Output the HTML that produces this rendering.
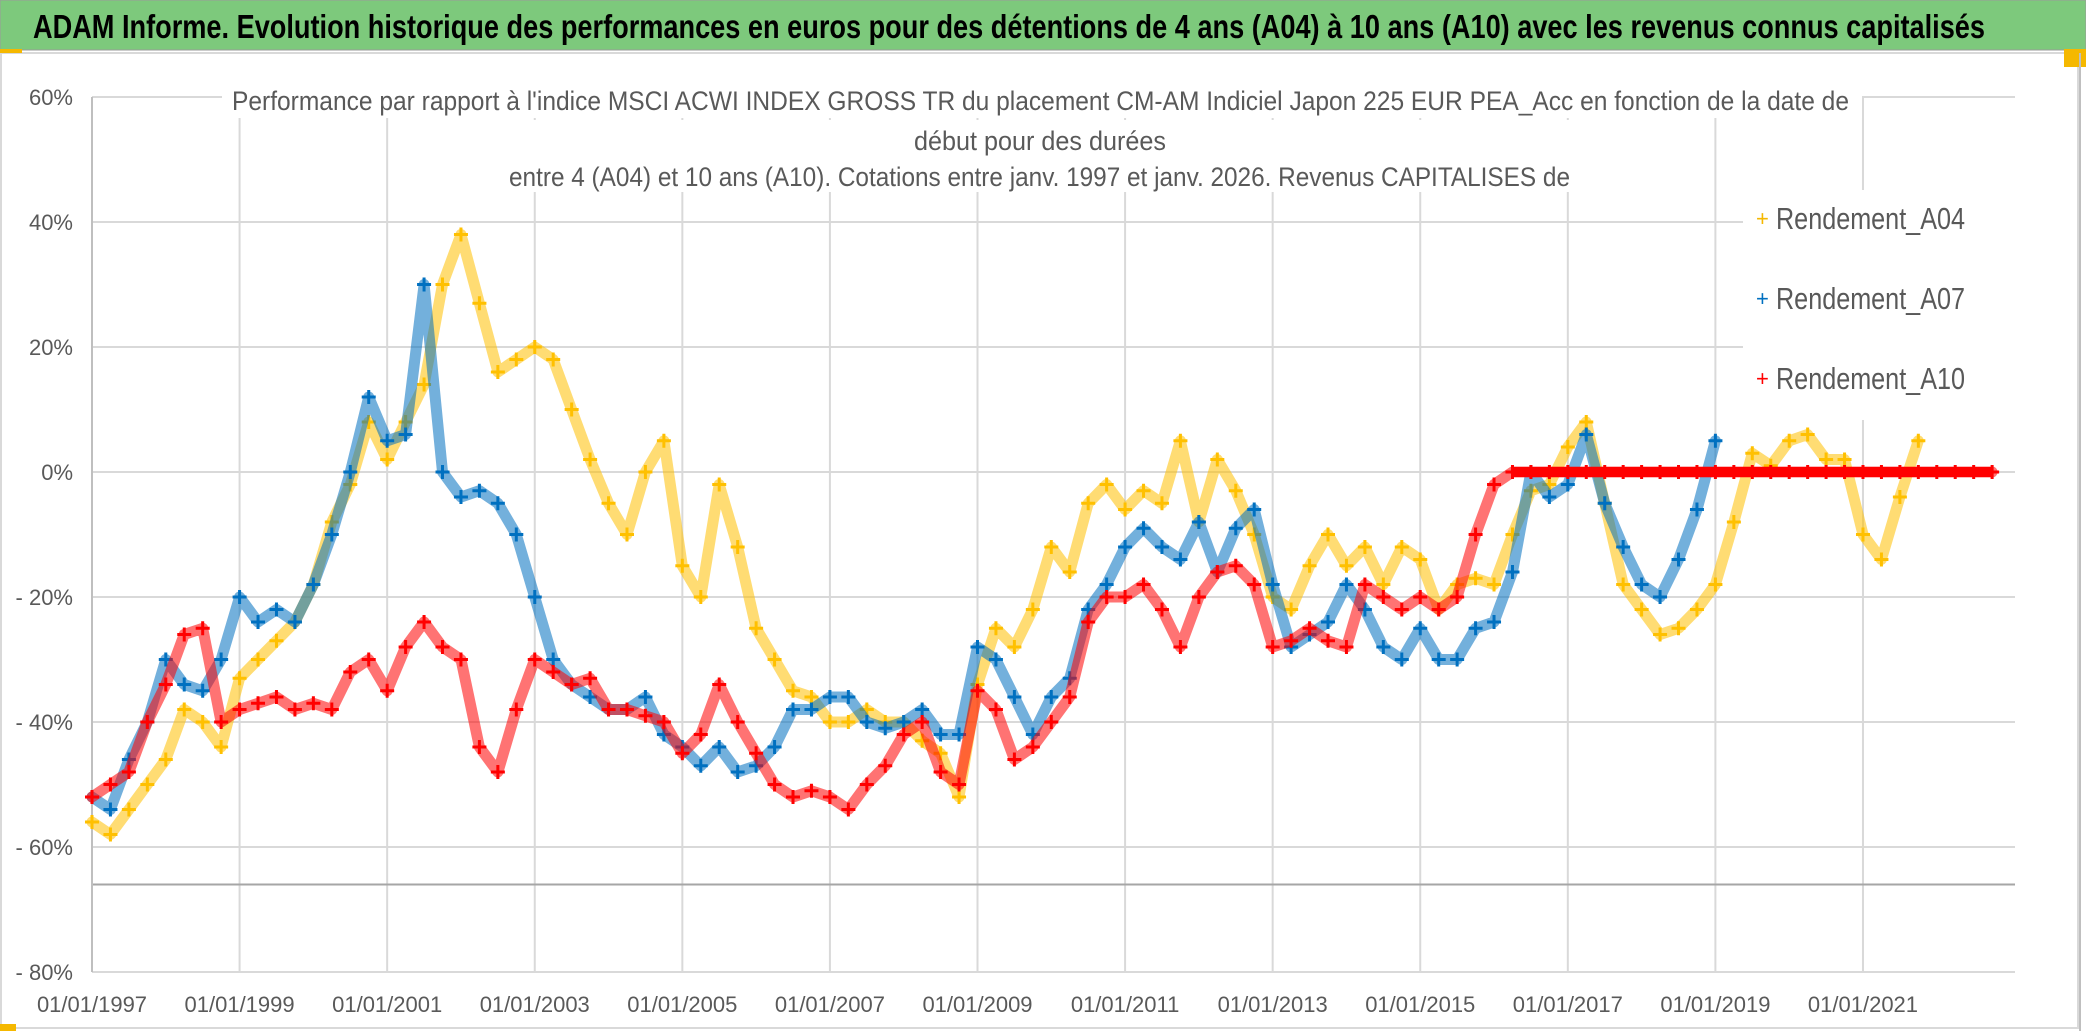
<!DOCTYPE html>
<html><head><meta charset="utf-8">
<style>
html,body{margin:0;padding:0;background:#fff;}
svg{display:block;}
text{font-family:"Liberation Sans Narrow","Liberation Sans",sans-serif;}
</style></head>
<body>
<svg id="chart" width="2086" height="1031" viewBox="0 0 2086 1031" xmlns="http://www.w3.org/2000/svg">
  <rect x="0" y="0" width="2086" height="1031" fill="#ffffff"/>
  <rect x="0" y="0" width="2086" height="50" fill="#7dc97c" stroke="#9a9a9a" stroke-width="1"/>
  <text x="33" y="38" font-size="33" font-weight="bold" fill="#000" textLength="1952" lengthAdjust="spacingAndGlyphs">ADAM Informe. Evolution historique des performances en euros pour des détentions de 4 ans (A04) à 10 ans (A10) avec les revenus connus capitalisés</text>
  <rect x="1" y="53" width="2077" height="975" fill="none" stroke="#d9d9d9" stroke-width="2"/>
  <rect x="0" y="49" width="22" height="4" fill="#f5b800"/>
  <rect x="2064" y="49" width="22" height="18" fill="#f5b800"/>
  <rect x="0" y="1024" width="16" height="7" fill="#f5b800"/>
  <line x1="2080" y1="53" x2="2080" y2="1031" stroke="#bfbfbf" stroke-width="2"/>
  <g id="grid"></g>
  <g id="series"></g>
  <g id="axes"></g>
  <rect x="222" y="78" width="1640" height="40" fill="#fff"/>
  <rect x="500" y="120" width="1080" height="72" fill="#fff"/>
  <text x="232" y="110" font-size="27" fill="#595959" textLength="1617" lengthAdjust="spacingAndGlyphs">Performance par rapport à l'indice MSCI ACWI INDEX GROSS TR  du placement CM-AM Indiciel Japon 225 EUR PEA_Acc en fonction de la date de</text>
  <text x="914" y="150" font-size="27" fill="#595959" textLength="252" lengthAdjust="spacingAndGlyphs">début pour des durées</text>
  <text x="509" y="186" font-size="27" fill="#595959" textLength="1061" lengthAdjust="spacingAndGlyphs">entre 4 (A04) et 10 ans (A10). Cotations entre janv. 1997 et janv. 2026. Revenus CAPITALISES de</text>
  <g id="legend">
    <rect x="1743" y="190" width="272" height="230" fill="#fff"/>
    <g>
      <text x="1756" y="226" font-size="22" fill="#f5b800">+</text>
      <text x="1776" y="229" font-size="31" fill="#595959" textLength="189" lengthAdjust="spacingAndGlyphs">Rendement_A04</text>
    </g>
    <g>
      <text x="1756" y="306" font-size="22" fill="#0070c0">+</text>
      <text x="1776" y="309" font-size="31" fill="#595959" textLength="189" lengthAdjust="spacingAndGlyphs">Rendement_A07</text>
    </g>
    <g>
      <text x="1756" y="386" font-size="22" fill="#ff0000">+</text>
      <text x="1776" y="389" font-size="31" fill="#595959" textLength="189" lengthAdjust="spacingAndGlyphs">Rendement_A10</text>
    </g>
  </g>
</svg>
<script>
// ---- data ----
const yTicks = [60, 40, 20, 0, -20, -40, -60, -80];
const yTickLabels = ["60%", "40%", "20%", "0%", "- 20%", "- 40%", "- 60%", "- 80%"];
const xTicks = [1997, 1999, 2001, 2003, 2005, 2007, 2009, 2011, 2013, 2015, 2017, 2019, 2021];
const xTickLabels = ["01/01/1997","01/01/1999","01/01/2001","01/01/2003","01/01/2005","01/01/2007","01/01/2009","01/01/2011","01/01/2013","01/01/2015","01/01/2017","01/01/2019","01/01/2021"];
const a04Start = 1997;
const a04 = [-56,-58,-54,-50,-46,-38,-40,-44,-33,-30,-27,-24,-18,-8,-2,8,2,8,14,30,38,27,16,18,20,18,10,2,-5,-10,0,5,-15,-20,-2,-12,-25,-30,-35,-36,-40,-40,-38,-40,-40,-43,-45,-52,-34,-25,-28,-22,-12,-16,-5,-2,-6,-3,-5,5,-8,2,-3,-10,-20,-22,-15,-10,-15,-12,-18,-12,-14,-22,-18,-17,-18,-10,-3,-2,4,8,-5,-18,-22,-26,-25,-22,-18,-8,3,1,5,6,2,2,-10,-14,-4,5];
const a07Start = 1997;
const a07 = [-52,-54,-46,-40,-30,-34,-35,-30,-20,-24,-22,-24,-18,-10,0,12,5,6,30,0,-4,-3,-5,-10,-20,-30,-34,-36,-38,-38,-36,-42,-44,-47,-44,-48,-47,-44,-38,-38,-36,-36,-40,-41,-40,-38,-42,-42,-28,-30,-36,-42,-36,-33,-22,-18,-12,-9,-12,-14,-8,-16,-9,-6,-18,-28,-26,-24,-18,-22,-28,-30,-25,-30,-30,-25,-24,-16,0,-4,-2,6,-5,-12,-18,-20,-14,-6,5];
const a10Start = 1997;
const a10 = [-52,-50,-48,-40,-34,-26,-25,-40,-38,-37,-36,-38,-37,-38,-32,-30,-35,-28,-24,-28,-30,-44,-48,-38,-30,-32,-34,-33,-38,-38,-39,-40,-45,-42,-34,-40,-45,-50,-52,-51,-52,-54,-50,-47,-42,-40,-48,-50,-35,-38,-46,-44,-40,-36,-24,-20,-20,-18,-22,-28,-20,-16,-15,-18,-28,-27,-25,-27,-28,-18,-20,-22,-20,-22,-20,-10,-2,0,0,0,0,0,0,0,0,0,0,0,0,0,0,0,0,0,0,0,0,0,0,0,0,0,0,0];
const stepYears = 0.25;
const xMin = 1997, xMax = 2023.06;
const yMin = -80, yMax = 60;

// ---- axis functions ----
const plotL = 92, plotR = 2015, plotT = 97, plotB = 972;
const xs = v => plotL + (v - xMin) / (xMax - xMin) * (plotR - plotL);
const ys = v => plotB - (v - yMin) / (yMax - yMin) * (plotB - plotT);
const NS = "http://www.w3.org/2000/svg";
function mk(tag, attrs, parent) {
  const e = document.createElementNS(NS, tag);
  for (const k in attrs) e.setAttribute(k, attrs[k]);
  parent.appendChild(e);
  return e;
}
const grid = document.getElementById('grid');
const axes = document.getElementById('axes');
const layer = document.getElementById('series');

yTicks.forEach((t, i) => {
  const l = mk('line', {x1: plotL, x2: plotR, y1: ys(t), y2: ys(t), stroke: '#d9d9d9', 'stroke-width': 2}, grid);
  
  
  const tx = mk('text', {x: 73, y: ys(t) + 8, 'font-size': 22, fill: '#595959', 'text-anchor': 'end'}, axes);
  tx.textContent = yTickLabels[i];
  
  
});
xTicks.forEach((t, i) => {
  const l = mk('line', {x1: xs(t), x2: xs(t), y1: plotT, y2: plotB, stroke: '#d9d9d9', 'stroke-width': 2}, grid);
  
  
  const tx = mk('text', {x: xs(t), y: 1012, 'font-size': 22, fill: '#595959', 'text-anchor': 'middle'}, axes);
  tx.textContent = xTickLabels[i];
  
  
});
const ref = mk('line', {x1: plotL, x2: plotR, y1: ys(-66), y2: ys(-66), stroke: '#a6a6a6', 'stroke-width': 2}, grid);


const ax = mk('line', {x1: plotL, x2: plotL, y1: plotT, y2: plotB, stroke: '#bfbfbf', 'stroke-width': 2}, grid);



function drawSeries(name, start, vals, color, width) {
  const g = mk('g', {}, layer);
  
  
  const pts = vals.map((v, i) => xs(start + i * stepYears).toFixed(1) + ',' + ys(v).toFixed(1)).join(' ');
  const pl = mk('polyline', {points: pts, fill: 'none', stroke: color, 'stroke-width': width, 'stroke-linejoin': 'round', 'stroke-linecap': 'round', opacity: 0.55}, g);
  
  
  vals.forEach((v, i) => {
    const cx = xs(start + i * stepYears), cy = ys(v);
    const p = mk('path', {d: `M${cx-7},${cy}h14M${cx},${cy-7}v14`, stroke: color, 'stroke-width': 3}, g);
    
    
  });
}
drawSeries('a04', a04Start, a04, '#ffc000', 11);
drawSeries('a07', a07Start, a07, '#0070c0', 11);
drawSeries('a10', a10Start, a10, '#ff0000', 11);
// thick flat zero segment of A10 drawn from the data
(function () {
  let first = a10.findIndex((v, i) => i > 60 && v === 0);
  if (first >= 0) {
    const seg = mk('line', {x1: xs(a10Start + first * stepYears), x2: xs(a10Start + (a10.length - 1) * stepYears), y1: ys(0), y2: ys(0), stroke: '#ff0000', 'stroke-width': 10}, layer);
    
    
  }
})();
</script>
</body></html>
